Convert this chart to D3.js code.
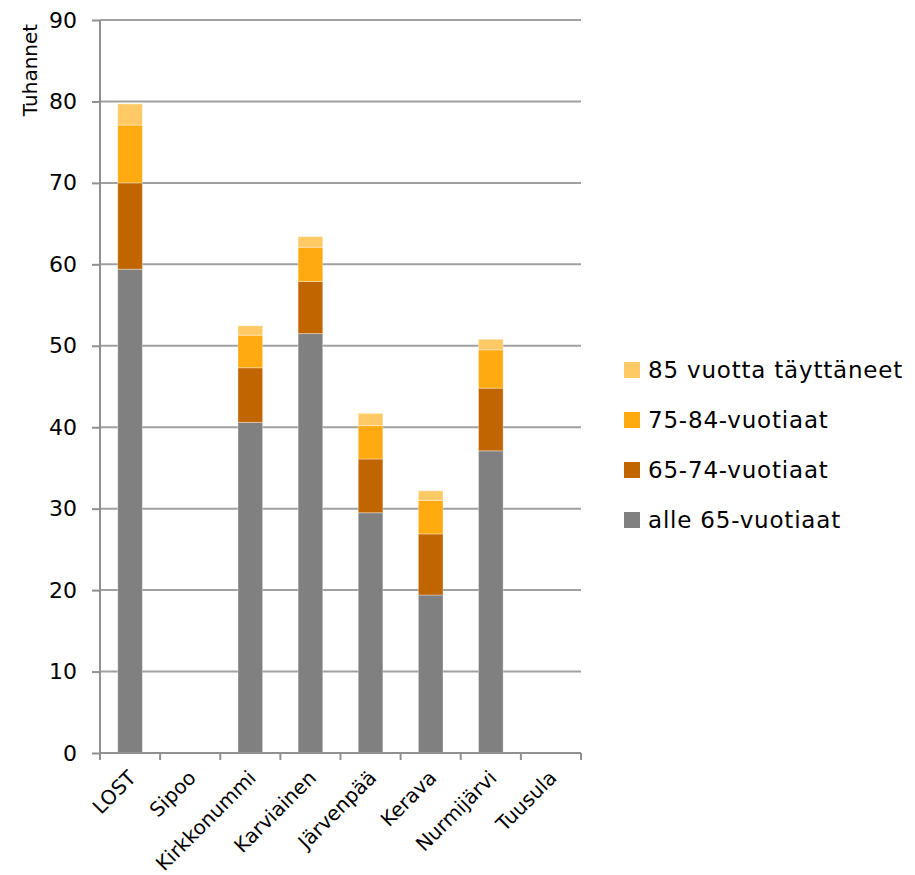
<!DOCTYPE html>
<html><head><meta charset="utf-8">
<script src="https://cdn.jsdelivr.net/npm/d3@7"></script>
<style>body{margin:0;background:#fff}svg{display:block}text{font-family:"DejaVu Sans",sans-serif;fill:#000}</style>
</head><body>
<svg id="c" width="915" height="875"></svg>
<script>
const categories = ["LOST","Sipoo","Kirkkonummi","Karviainen","Järvenpää","Kerava","Nurmijärvi","Tuusula"];
const seriesNames = ["alle 65-vuotiaat","65-74-vuotiaat","75-84-vuotiaat","85 vuotta täyttäneet"];
const alle65 = [59.4, 0, 40.6, 51.5, 29.5, 19.4, 37.1, 0];
const v65_74 = [10.6, 0, 6.7, 6.4, 6.6, 7.5, 7.7, 0];
const v75_84 = [7.1, 0, 4.0, 4.2, 4.1, 4.1, 4.7, 0];
const v85 = [2.6, 0, 1.15, 1.3, 1.5, 1.2, 1.3, 0];
const yTicks = [0,10,20,30,40,50,60,70,80,90];
const colors = ["#808080","#C06500","#FFAA11","#FFCA66"];

const svg = d3.select("#c");
const x = d3.scaleBand().domain(categories).range([100,581]).paddingInner(0.59).paddingOuter(0.295);
const xb = d3.scaleBand().domain(categories).range([100,581]);
const y = d3.scaleLinear().domain([0,90]).range([753,20]);

// gridlines
svg.append("g").selectAll("line").data(yTicks.filter(d=>d>0)).join("line")
  .attr("x1",100).attr("x2",581).attr("y1",d=>y(d)).attr("y2",d=>y(d))
  .attr("stroke","#a0a0a0").attr("stroke-width",2);

const table = categories.map((c,i)=>({cat:c, [seriesNames[0]]:alle65[i],[seriesNames[1]]:v65_74[i],[seriesNames[2]]:v75_84[i],[seriesNames[3]]:v85[i]}));
const stack = d3.stack().keys(seriesNames)(table);
svg.append("g").selectAll("g").data(stack).join("g").attr("fill",(d,i)=>colors[i])
  .selectAll("rect").data(d=>d.filter(e=>e[1]-e[0]>0)).join("rect")
  .attr("x",d=>x(d.data.cat)).attr("width",x.bandwidth())
  .attr("y",d=>y(d[1])).attr("height",d=>y(d[0])-y(d[1]))
  .attr("stroke","#ffffff").attr("stroke-opacity",0.35).attr("stroke-width",1);

// y axis
const ya = svg.append("g").attr("transform","translate(100,0)")
  .call(d3.axisLeft(y).tickValues(yTicks).tickSize(8).tickPadding(15));
ya.select(".domain").attr("stroke","#909090").attr("stroke-width",2).attr("d","M0,20V753");
ya.selectAll(".tick line").attr("stroke","#909090").attr("stroke-width",2);
ya.selectAll(".tick text").style("font-size","22px").style("font-family","DejaVu Sans");

// x axis
const xa = svg.append("g").attr("transform","translate(0,753)");
xa.append("line").attr("x1",100).attr("x2",581).attr("stroke","#909090").attr("stroke-width",2);
const edges = categories.map(c=>xb(c)).concat([581]);
xa.selectAll("line.t").data(edges).join("line").attr("class","t")
  .attr("x1",d=>d).attr("x2",d=>d).attr("y1",0).attr("y2",7)
  .attr("stroke","#909090").attr("stroke-width",2);
xa.selectAll("text").data(categories).join("text")
  .attr("transform",d=>`translate(${xb(d)+xb.bandwidth()/2+7},${26}) rotate(-45)`)
  .attr("text-anchor","end").style("font-size","20px").text(d=>d);

// y label
svg.append("text").attr("transform","translate(37,70) rotate(-90)")
  .attr("text-anchor","middle").style("font-size","20px").text("Tuhannet");

// legend
const leg = svg.append("g");
const legOrder = [3,2,1,0];
legOrder.forEach((si,k)=>{
  const cy = 370 + k*50;
  leg.append("rect").attr("x",624).attr("y",cy-8).attr("width",16).attr("height",16).attr("fill",colors[si]);
  leg.append("text").attr("x",648).attr("y",cy).attr("dy","0.36em").style("font-size","23px")
    .style("letter-spacing","0.8px").text(seriesNames[si]);
});
</script>
</body></html>
